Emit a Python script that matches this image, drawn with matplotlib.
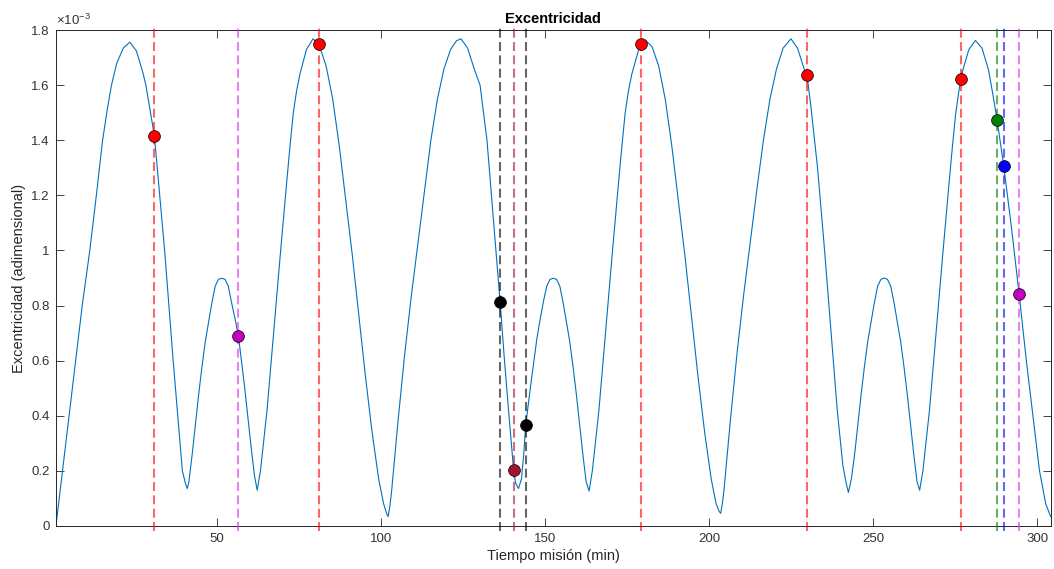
import matplotlib.pyplot as plt
from matplotlib.ticker import FormatStrFormatter

# Excentricidad (tiempo en min, excentricidad en 1e-3)
tiempo = [
    1.0, 3.0, 5.0, 7.0, 9.0, 11.3, 13.3, 15.2, 16.6, 17.9, 19.5, 21.5, 23.5,
    25.5, 27.5, 28.4, 31.0, 33.0, 34.1, 36.7, 39.5, 40.4, 41.0,
    41.5, 42.5, 43.5, 44.5, 45.5, 46.5, 47.5, 48.5, 49.5, 50.5, 51.5,
    52.5, 53.5, 54.5, 55.5, 56.6, 57.5, 58.5, 59.5, 60.5, 61.5, 62.3,
    63.3, 65.3, 67.3, 69.3, 71.3, 72.3, 73.3, 74.3, 75.3, 77.3, 79.3,
    81.1, 83.3, 85.3, 87.3, 89.3, 91.3, 93.3, 95.3, 97.3, 99.3, 100.8, 101.7, 102.2,
    102.7, 103.2, 104.2, 105.2, 107.2, 109.2, 111.2, 113.2, 115.2, 117.2, 119.2,
    121.2, 123.0, 124.4,
    126.4, 128.4, 130.2, 132.3, 134.0, 135.0, 136.3, 137.5, 139.0, 140.4, 141.0,
    141.9, 142.8, 143.5, 144.1,
    145.5, 146.5, 147.5, 148.5, 149.5, 150.5, 151.5, 152.5,
    153.5, 154.5, 155.5, 156.5, 157.5, 158.5, 159.5, 160.5, 161.5, 162.5, 163.4,
    164.4, 166.4, 168.4, 170.4, 172.4, 173.4, 174.4, 175.4, 176.4, 178.4, 179.2, 180.6,
    182.6, 184.6, 186.6, 188.6, 190.6, 192.6, 194.6, 196.6, 198.6, 200.6, 202.1,
    203.0, 203.5,
    204.0, 204.5, 205.5, 206.5, 208.5, 210.5, 212.5, 214.5, 216.5, 218.5, 220.5,
    222.5, 224.9,
    226.9, 228.9, 229.8, 231.0, 233.0, 235.0, 237.0, 239.0, 240.7, 241.8, 242.4,
    243.3, 244.3, 245.3, 246.3, 247.3, 248.3, 249.3, 250.3, 251.3, 252.3, 253.3,
    254.3, 255.3, 256.3, 257.3, 258.3, 259.3, 260.3, 261.3, 262.3, 263.3, 264.1,
    265.1, 267.1, 269.1, 271.1, 273.1, 274.1, 275.1, 276.6, 277.6, 279.1, 281.1,
    283.1, 285.1, 286.5, 287.7, 289.7, 292.0, 294.4, 296.6, 298.6, 300.6, 302.5, 304.0,
]
excentricidad = [
    0.0, 0.2, 0.4, 0.6, 0.8, 1.0, 1.2, 1.4, 1.51, 1.6, 1.68, 1.735, 1.757,
    1.725, 1.645, 1.6, 1.415, 1.15, 1.0, 0.6, 0.2, 0.155, 0.135,
    0.16, 0.26, 0.37, 0.48, 0.58, 0.67, 0.74, 0.81, 0.87, 0.895, 0.899,
    0.895, 0.87, 0.81, 0.755, 0.688, 0.6, 0.5, 0.39, 0.28, 0.18, 0.129,
    0.2, 0.42, 0.70, 0.98, 1.25, 1.38, 1.50, 1.58, 1.64, 1.73, 1.769,
    1.749, 1.67, 1.55, 1.38, 1.18, 0.98, 0.76, 0.54, 0.34, 0.17, 0.08, 0.045, 0.033,
    0.07, 0.12, 0.25, 0.38, 0.62, 0.83, 1.02, 1.21, 1.40, 1.55, 1.66,
    1.73, 1.762, 1.769,
    1.735, 1.66, 1.6, 1.4, 1.15, 1.0, 0.812, 0.62, 0.4, 0.204, 0.155,
    0.135, 0.17, 0.26, 0.365,
    0.5, 0.59, 0.68, 0.75, 0.815, 0.87, 0.895, 0.899,
    0.895, 0.87, 0.81, 0.74, 0.67, 0.58, 0.48, 0.37, 0.26, 0.16, 0.126,
    0.2, 0.42, 0.70, 0.98, 1.25, 1.38, 1.50, 1.58, 1.64, 1.725, 1.749, 1.764,
    1.74, 1.67, 1.55, 1.38, 1.18, 0.98, 0.76, 0.54, 0.34, 0.17, 0.08,
    0.052, 0.045,
    0.08, 0.13, 0.26, 0.39, 0.63, 0.84, 1.03, 1.22, 1.40, 1.55, 1.66,
    1.735, 1.769,
    1.735, 1.66, 1.636, 1.52, 1.30, 1.02, 0.72, 0.42, 0.22, 0.15, 0.121,
    0.17, 0.26, 0.37, 0.48, 0.58, 0.67, 0.74, 0.81, 0.87, 0.895, 0.900,
    0.895, 0.87, 0.81, 0.74, 0.67, 0.58, 0.48, 0.37, 0.26, 0.16, 0.129,
    0.2, 0.42, 0.70, 0.98, 1.25, 1.38, 1.50, 1.624, 1.67, 1.73, 1.763,
    1.735, 1.655, 1.56, 1.474, 1.308, 1.09, 0.842, 0.6, 0.4, 0.2, 0.08, 0.033,
]

# eventos marcados (linea vertical + punto sobre la curva)
evento_t = [31.0, 56.6, 81.1, 136.3, 140.4, 144.1, 179.2, 229.8, 276.6, 287.7, 289.7, 294.4]
evento_e = [1.415, 0.688, 1.749, 0.812, 0.204, 0.365, 1.749, 1.636, 1.624, 1.474, 1.308, 0.842]
evento_tipo = ["rojo", "magenta", "rojo", "negro", "granate", "negro",
               "rojo", "rojo", "rojo", "verde", "azul", "magenta"]

color_tipo = {
    "rojo": (1, 0, 0),
    "magenta": (0.75, 0, 0.75),
    "negro": (0, 0, 0),
    "granate": (0.64, 0.08, 0.18),
    "verde": (0, 0.5, 0),
    "azul": (0, 0, 1),
}
color_linea = dict(color_tipo)
color_linea["magenta"] = (0.85, 0.2, 0.9)

plt.rcParams["font.family"] = ["Liberation Sans", "DejaVu Sans"]
plt.rcParams["mathtext.fontset"] = "custom"
plt.rcParams["mathtext.rm"] = "Liberation Sans"
plt.rcParams["mathtext.it"] = "Liberation Sans:italic"

gris = "#262626"

fig = plt.figure(figsize=(10.54, 5.69), dpi=100)
ax = fig.add_axes([0.0531, 0.0761, 0.9437, 0.8707])

ax.plot(tiempo, excentricidad, color="#0072BD", lw=0.8, zorder=2)

for t, tipo in zip(evento_t, evento_tipo):
    ax.plot([t, t], [-0.02, 1.812], ls=(0, (4.3, 2.1)), lw=1.5,
            color=color_linea[tipo], alpha=0.6, clip_on=False, zorder=3)

for t, e, tipo in zip(evento_t, evento_e, evento_tipo):
    ax.plot(t, e, "o", ms=8.5, mfc=color_tipo[tipo], mec="k", mew=0.5,
            zorder=4, clip_on=False)

ax.set_xlim(1, 304)
ax.set_ylim(0, 1.8)
ax.set_xticks([50, 100, 150, 200, 250, 300])
ax.set_yticks([0, 0.2, 0.4, 0.6, 0.8, 1.0, 1.2, 1.4, 1.6, 1.8])
ax.yaxis.set_major_formatter(FormatStrFormatter("%g"))

ax.tick_params(direction="in", length=5.5, width=0.6, top=True, right=True,
               labelsize=9.5, color=gris, labelcolor="#333333")
ax.tick_params(axis="x", pad=5)
ax.tick_params(axis="y", pad=4.5)
for s in ax.spines.values():
    s.set_color(gris)
    s.set_linewidth(0.7)

ax.text(0.0, 1.004, r"$\times10^{-3}$", transform=ax.transAxes,
        ha="left", va="bottom", fontsize=9.5, color="#333333")

ax.set_title("Excentricidad", fontsize=10.5, fontweight="bold", pad=5)
ax.set_xlabel("Tiempo misión (min)", fontsize=10.5, color="#262626", labelpad=3)
ax.set_ylabel("Excentricidad (adimensional)", fontsize=10.5, color="#262626", labelpad=4)

fig.savefig("out.png", dpi=100)
